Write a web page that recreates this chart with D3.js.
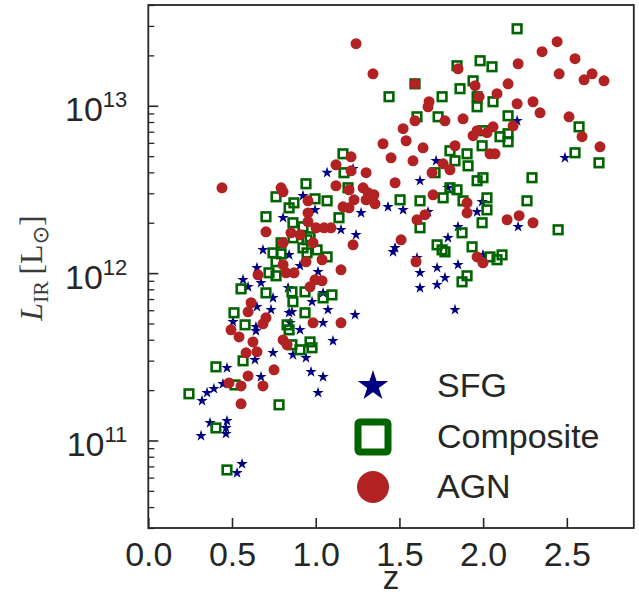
<!DOCTYPE html>
<html>
<head>
<meta charset="utf-8">
<script src="https://cdn.jsdelivr.net/npm/d3@7"></script>
<style>
    body { margin: 0; background: #fff; }
    #chart { width: 639px; height: 594px; }
</style>
</head>
<body>
<div id="chart"></div>
<script>
// redshift z and log10(L_IR / L_sun)
const sfgZ = [1.068, 1.223, 1.623, 1.719, 2.203, 2.489, 1.271, 1.432, 1.522, 1.671, 1.151, 1.241, 1.462, 1.474, 1.605, 1.790,
    1.850, 1.964, 1.994, 2.209, 1.790, 1.725, 1.623, 1.772, 1.850, 1.725, 1.623, 1.999, 1.073, 1.044, 1.235, 1.103,
    1.832, 1.044, 1.014, 0.972, 1.044, 0.978, 0.858, 0.906, 0.864, 0.942, 1.014, 0.924, 0.996, 0.805, 0.685, 0.841,
    0.649, 0.566, 0.596, 0.673, 0.745, 0.835, 0.649, 0.733, 0.506, 0.643, 0.643, 0.841, 0.847, 0.745, 0.637, 0.470,
    0.673, 0.446, 0.392, 0.351, 0.321, 0.369, 0.470, 0.464, 0.464, 0.315, 0.530, 0.560, 0.906];
const sfgLogL = [12.600, 12.623, 12.552, 12.671, 12.910, 12.689, 12.360, 12.396, 12.378, 12.366, 12.259, 12.229, 12.127, 12.151, 12.091, 12.211,
    12.277, 12.366, 12.426, 12.277, 12.510, 12.032, 12.002, 11.972, 12.050, 11.930, 11.912, 12.109, 11.781, 11.703, 11.751, 11.595,
    11.781, 11.380, 11.285, 11.410, 11.882, 11.829, 11.769, 11.661, 11.512, 11.494, 12.008, 12.462, 12.378, 12.331, 12.139, 12.109,
    12.032, 11.960, 11.918, 11.942, 11.852, 11.912, 11.799, 11.781, 11.709, 11.679, 11.655, 11.763, 11.703, 11.524, 11.482, 11.434,
    11.380, 11.338, 11.309, 11.285, 11.237, 11.105, 11.117, 11.075, 11.040, 11.028, 10.806, 10.860, 12.044];

const compZ = [2.203, 1.844, 1.982, 2.053, 1.593, 1.438, 1.755, 1.862, 1.940, 1.964, 1.964, 2.059, 1.605, 1.731, 2.149, 2.573,
    1.999, 2.101, 2.149, 2.149, 1.994, 2.549, 2.692, 1.802, 1.904, 1.832, 1.910, 1.163, 1.169, 1.713, 1.964, 1.999,
    2.292, 1.193, 1.068, 1.504, 1.623, 1.761, 1.802, 1.844, 1.880, 2.023, 2.023, 2.262, 1.139, 1.623, 1.994, 1.874,
    2.448, 1.725, 1.755, 1.772, 1.934, 2.041, 2.083, 2.113, 1.904, 1.874, 1.097, 1.044, 1.068, 1.008, 0.942, 0.763,
    0.841, 0.870, 0.703, 0.864, 0.924, 0.864, 0.948, 0.793, 0.793, 0.745, 0.924, 0.948, 0.763, 0.721, 0.763, 0.554,
    0.703, 0.996, 0.966, 0.858, 0.864, 0.936, 0.936, 0.512, 0.578, 0.829, 0.841, 0.966, 0.978, 0.906, 0.858, 0.566,
    0.404, 0.243, 0.518, 0.781, 0.404, 0.470];
const compLogL = [13.460, 13.239, 13.269, 13.233, 13.131, 13.054, 13.054, 13.102, 13.149, 13.054, 12.994, 13.024, 12.934, 12.934, 12.940, 12.874,
    12.851, 12.815, 12.833, 12.785, 12.761, 12.719, 12.659, 12.731, 12.713, 12.671, 12.641, 12.713, 12.600, 12.600, 12.552, 12.570,
    12.570, 12.510, 12.432, 12.438, 12.432, 12.450, 12.510, 12.498, 12.432, 12.450, 12.378, 12.432, 12.331, 12.271, 12.301, 12.241,
    12.259, 12.169, 12.139, 12.127, 12.157, 12.097, 12.080, 12.109, 11.984, 11.948, 11.870, 11.852, 12.097, 12.139, 12.534, 12.456,
    12.390, 12.420, 12.337, 12.301, 12.277, 12.211, 12.199, 12.181, 12.115, 12.121, 12.151, 12.121, 12.068, 12.002, 11.984, 11.906,
    11.882, 12.444, 12.217, 11.888, 11.829, 11.888, 11.763, 11.763, 11.691, 11.691, 11.661, 11.589, 11.554, 11.542, 11.572, 11.476,
    11.440, 11.279, 11.332, 11.213, 11.075, 10.824];

const agnZ = [1.241, 1.342, 1.593, 1.850, 2.209, 2.352, 2.442, 2.549, 2.454, 2.651, 2.603, 2.722, 2.149, 1.952, 1.976, 2.083,
    1.677, 1.671, 2.203, 2.298, 2.340, 1.593, 1.772, 1.880, 2.179, 2.513, 1.522, 1.964, 2.059, 1.940, 2.023, 2.591,
    1.402, 1.540, 1.641, 1.832, 2.698, 1.211, 1.450, 1.581, 2.041, 2.071, 1.121, 1.211, 1.301, 1.695, 1.761, 1.802,
    1.474, 1.121, 1.199, 1.283, 1.313, 1.348, 1.229, 1.301, 1.354, 1.163, 1.199, 1.701, 1.904, 1.904, 1.653, 1.605,
    2.143, 2.215, 2.298, 1.050, 1.091, 1.002, 1.223, 1.510, 1.964, 1.999, 1.599, 1.151, 1.038, 0.996, 1.038, 0.966,
    1.151, 0.984, 0.823, 0.870, 0.440, 0.793, 0.805, 0.954, 0.954, 0.954, 0.703, 0.852, 0.906, 0.805, 0.984, 0.942,
    0.805, 0.655, 0.614, 0.596, 0.703, 0.685, 0.494, 0.542, 0.625, 0.805, 0.829, 0.584, 0.649, 0.751, 0.596, 0.482,
    0.554, 0.685, 0.554];
const agnLogL = [13.371, 13.191, 13.131, 13.221, 13.251, 13.323, 13.383, 13.281, 13.191, 13.191, 13.155, 13.149, 13.131, 13.120, 13.054, 13.072,
    13.024, 12.994, 13.012, 13.024, 12.958, 12.910, 12.910, 12.922, 12.880, 12.934, 12.863, 12.851, 12.874, 12.821, 12.839, 12.815,
    12.773, 12.791, 12.749, 12.761, 12.755, 12.695, 12.689, 12.671, 12.713, 12.713, 12.647, 12.611, 12.600, 12.600, 12.653, 12.617,
    12.540, 12.522, 12.498, 12.510, 12.480, 12.468, 12.438, 12.438, 12.414, 12.396, 12.390, 12.468, 12.420, 12.360, 12.349, 12.319,
    12.319, 12.343, 12.301, 12.271, 12.271, 12.271, 12.169, 12.199, 12.097, 12.062, 12.068, 12.020, 12.080, 11.960, 11.954, 11.918,
    11.703, 11.703, 12.002, 12.002, 12.510, 12.510, 12.486, 12.432, 12.360, 12.307, 12.247, 12.241, 12.229, 12.181, 12.181, 12.068,
    12.050, 11.990, 11.823, 11.769, 11.733, 11.697, 11.661, 11.619, 11.589, 11.601, 11.572, 11.524, 11.530, 11.422, 11.386, 11.344,
    11.326, 11.326, 11.219];

const xTicks = [0.0, 0.5, 1.0, 1.5, 2.0, 2.5];
const yTicks = [1e11, 1e12, 1e13];
const yTickExp = ["11", "12", "13"];
const legendLabels = ["SFG", "Composite", "AGN"];

document.addEventListener("DOMContentLoaded", function () {
    const W = 639, H = 594;
    const margin = { top: 5, right: 5.2, bottom: 66, left: 148.3 };
    const ink = "#262626";
    const sans = "'Liberation Sans', Arial, sans-serif";

    const svg = d3.select("#chart").append("svg")
        .attr("width", W)
        .attr("height", H);

    const x = d3.scaleLinear().domain([0, 2.9]).range([margin.left, W - margin.right]);
    const y = d3.scaleLog().domain([3e10, 4e13]).range([H - margin.bottom, margin.top]);

    const toPts = (zs, ls) => zs.map((z, i) => ({ z: z, L: Math.pow(10, ls[i]) }));
    const sfg = toPts(sfgZ, sfgLogL);
    const comp = toPts(compZ, compLogL);
    const agn = toPts(agnZ, agnLogL);

    // points, same order as the legend (AGN ends up on top)
    const star = d3.symbol().type(d3.symbolStar).size(40);
    svg.append("g").selectAll("path")
        .data(sfg)
        .enter()
        .append("path")
        .attr("d", star)
        .attr("transform", d => `translate(${x(d.z)},${y(d.L)})`)
        .attr("fill", "#000080");

    const sq = 8.6;
    svg.append("g").selectAll("rect")
        .data(comp)
        .enter()
        .append("rect")
        .attr("x", d => x(d.z) - sq / 2)
        .attr("y", d => y(d.L) - sq / 2)
        .attr("width", sq)
        .attr("height", sq)
        .attr("fill", "none")
        .attr("stroke", "#006400")
        .attr("stroke-width", 2.6);

    svg.append("g").selectAll("circle")
        .data(agn)
        .enter()
        .append("circle")
        .attr("cx", d => x(d.z))
        .attr("cy", d => y(d.L))
        .attr("r", 5.5)
        .attr("fill", "#B22222");

    // frame
    svg.append("rect")
        .attr("x", margin.left)
        .attr("y", margin.top)
        .attr("width", W - margin.right - margin.left)
        .attr("height", H - margin.bottom - margin.top)
        .attr("fill", "none")
        .attr("stroke", ink)
        .attr("stroke-width", 1.8);

    // x axis, ticks pointing inwards
    const xAxis = svg.append("g")
        .attr("transform", `translate(0,${H - margin.bottom})`)
        .call(d3.axisBottom(x).tickValues(xTicks).tickSizeInner(-10).tickSizeOuter(0).tickFormat(d3.format(".1f")));
    xAxis.select(".domain").remove();
    xAxis.selectAll(".tick line").attr("stroke", ink).attr("stroke-width", 1.6);
    xAxis.selectAll(".tick text")
        .attr("y", 0)
        .attr("dy", null)
        .attr("transform", "translate(0,38)")
        .attr("font-family", sans)
        .attr("font-size", 34)
        .attr("fill", ink);

    // y axis: minor ticks + major ticks with 10^n labels
    const minor = [];
    [1e10, 1e11, 1e12, 1e13].forEach(dec => {
        for (let k = 2; k <= 9; k++) {
            const v = k * dec;
            if (v >= 3e10 && v <= 4e13) minor.push(v);
        }
    });
    const yMinor = svg.append("g")
        .attr("transform", `translate(${margin.left},0)`)
        .call(d3.axisLeft(y).tickValues(minor).tickSizeInner(-6).tickSizeOuter(0).tickFormat(""));
    yMinor.select(".domain").remove();
    yMinor.selectAll(".tick line").attr("stroke", ink).attr("stroke-width", 1.3);

    const yAxis = svg.append("g")
        .attr("transform", `translate(${margin.left},0)`)
        .call(d3.axisLeft(y).tickValues(yTicks).tickSizeInner(-10).tickSizeOuter(0).tickFormat(""));
    yAxis.select(".domain").remove();
    yAxis.selectAll(".tick line").attr("stroke", ink).attr("stroke-width", 1.6);
    yAxis.selectAll(".tick").each(function (d, i) {
        const t = d3.select(this).append("text")
            .attr("x", -21)
            .attr("y", 15)
            .attr("text-anchor", "end")
            .attr("font-family", sans)
            .attr("fill", ink);
        t.append("tspan").attr("font-size", 34).text("10");
        t.append("tspan").attr("font-size", 22).attr("dy", -14).text(yTickExp[i]);
    });

    // axis titles
    svg.append("text")
        .attr("x", (margin.left + W - margin.right) / 2)
        .attr("y", 589)
        .attr("text-anchor", "middle")
        .attr("font-family", sans)
        .attr("font-size", 33)
        .attr("fill", ink)
        .text("z");

    const serif = "'Liberation Serif', 'DejaVu Serif', serif";
    const yl = svg.append("text")
        .attr("transform", "translate(42,268) rotate(-90)")
        .attr("text-anchor", "middle")
        .attr("font-family", serif)
        .attr("font-size", 32)
        .attr("fill", "#3a3a3a");
    yl.append("tspan").attr("font-style", "italic").text("L");
    yl.append("tspan").attr("font-size", 22).attr("dy", 6).text("IR");
    yl.append("tspan").attr("dy", -6).text("\u2009[L");
    yl.append("tspan").attr("font-size", 22).attr("dy", 6).attr("font-family", "'DejaVu Sans', sans-serif").text("\u2299");
    yl.append("tspan").attr("dy", -6).text("]");

    // legend
    const lx = 373, ly = [386, 437, 487];
    const lg = svg.append("g");
    lg.append("path")
        .attr("d", d3.symbol().type(d3.symbolStar).size(290)())
        .attr("transform", `translate(${lx},${ly[0]})`)
        .attr("fill", "#000080");
    lg.append("rect")
        .attr("x", lx - 15).attr("y", ly[1] - 15)
        .attr("width", 30).attr("height", 30)
        .attr("rx", 2)
        .attr("fill", "none")
        .attr("stroke", "#006400")
        .attr("stroke-width", 7);
    lg.append("circle")
        .attr("cx", lx).attr("cy", ly[2])
        .attr("r", 16)
        .attr("fill", "#B22222");
    lg.selectAll("text.lab")
        .data(legendLabels)
        .enter()
        .append("text")
        .attr("class", "lab")
        .attr("x", 437)
        .attr("y", (d, i) => ly[i] + 11)
        .attr("font-family", sans)
        .attr("font-size", 34)
        .attr("fill", ink)
        .text(d => d);
});
</script>
</body>
</html>
